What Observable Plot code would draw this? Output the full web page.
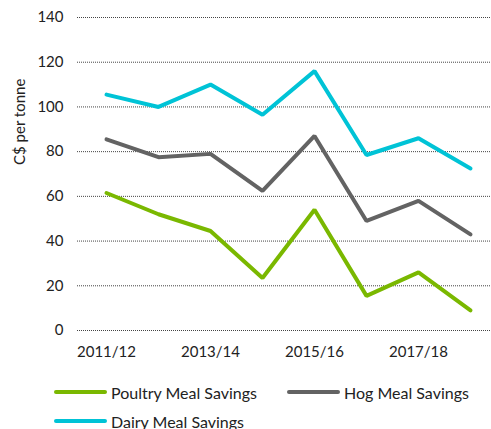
<!DOCTYPE html>
<html>
<head>
<meta charset="utf-8">
<script src="https://cdn.jsdelivr.net/npm/d3@7"></script>
<script src="https://cdn.jsdelivr.net/npm/@observablehq/plot@0.6"></script>
<style>
  html, body { margin: 0; padding: 0; background: #fff; }
  #wrap { position: relative; width: 491px; height: 429px; font-family: Lato, "Open Sans", sans-serif; }
  #legend { position: absolute; left: 0; top: 0; width: 491px; height: 429px; pointer-events: none; }
  .item { position: absolute; display: flex; align-items: center; font-size: 16px; color: #222; white-space: nowrap; }
  .sw { width: 53px; height: 4px; border-radius: 2px; margin-right: 4px; }
</style>
</head>
<body>
<div id="wrap"><div id="chart"></div><div id="legend"></div></div>
<script>
const years = ["2011/12","2012/13","2013/14","2014/15","2015/16","2016/17","2017/18","2018/19"];
const tickLabels = ["2011/12","2013/14","2015/16","2017/18"];
const poultry = [61.5, 52, 44.5, 23.5, 54, 15.5, 26, 9];
const hog = [85.5, 77.5, 79, 62.5, 87, 49, 58, 43];
const dairy = [105.5, 100, 110, 96.5, 116, 78.5, 86, 72.5];
const seriesNames = ["Poultry Meal Savings", "Hog Meal Savings", "Dairy Meal Savings"];
const seriesColors = ["#7ab800", "#636363", "#00c3d6"];
const yTicks = [0, 20, 40, 60, 80, 100, 120, 140];

const seriesVals = [poultry, hog, dairy];
const data = [];
seriesVals.forEach((vals, si) => vals.forEach((v, i) => data.push({year: years[i], value: v, series: seriesNames[si]})));

const chart = Plot.plot({
  width: 491,
  height: 365,
  marginLeft: 77,
  marginRight: 0,
  marginTop: 17,
  marginBottom: 35,
  style: {fontFamily: "Lato, 'Open Sans', sans-serif", fontSize: "15px", color: "#222"},
  x: {type: "point", domain: years, range: [103, 472], padding: 0, axis: null},
  y: {domain: [0, 140], range: [330, 17], axis: null},
  color: {domain: seriesNames, range: seriesColors},
  marks: [
    Plot.ruleY(yTicks, {stroke: "#444", strokeWidth: 1, strokeDasharray: "1,1", strokeOpacity: 1}),
    Plot.text(yTicks, {x: () => years[0], y: d => d, text: d => String(d), dx: -43, textAnchor: "end", fontSize: 15, fill: "#222"}),
    Plot.text(tickLabels, {x: d => d, y: () => 0, text: d => d, dy: 22, fontSize: 15, fill: "#222"}),
    Plot.line(data, {x: "year", y: "value", z: "series", stroke: "series", strokeWidth: 4, strokeLinejoin: "miter", strokeLinecap: "round"}),
    Plot.text(["C$ per tonne"], {frameAnchor: "left", dx: -57, dy: -9, rotate: -90, text: d => d, fontSize: 15, fill: "#222"})
  ]
});
document.getElementById("chart").appendChild(chart);

const legend = document.getElementById("legend");
const positions = [[54, 392], [287, 392], [54, 421]];
seriesNames.forEach((name, i) => {
  const el = document.createElement("div");
  el.className = "item";
  el.style.left = positions[i][0] + "px";
  el.style.top = (positions[i][1] - 10) + "px";
  el.style.height = "20px";
  el.innerHTML = `<span class="sw" style="background:${seriesColors[i]}"></span><span>${name}</span>`;
  legend.appendChild(el);
});
</script>
</body>
</html>
